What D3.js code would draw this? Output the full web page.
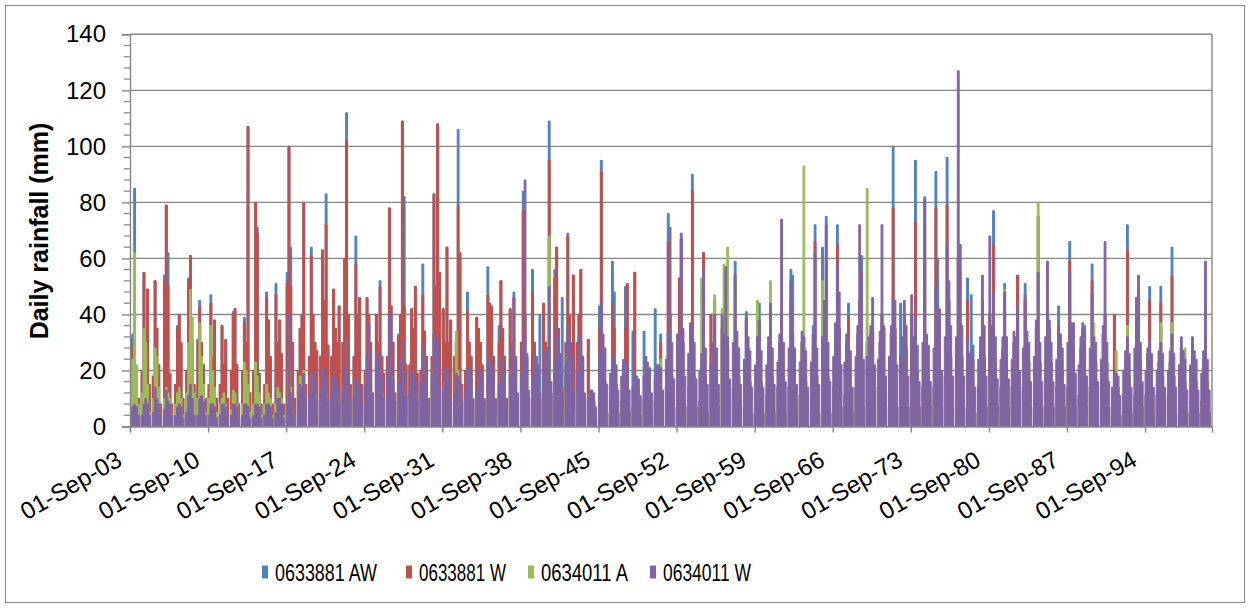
<!DOCTYPE html>
<html>
<head>
<meta charset="utf-8">
<script src="https://cdn.jsdelivr.net/npm/d3@7"></script>
<style>
  body { margin: 0; background: #ffffff; }
  svg { display: block; }
  text { font-family: "Liberation Sans", Arial, sans-serif; fill: #000; }
</style>
</head>
<body>
<svg id="chart" width="1250" height="608"></svg>
<script>
// Daily rainfall, four gauges, hydrological years Sep 1903 - Aug 2000.
// Each row is one year (Sep-Aug); its six values are the highest daily
// rainfall (mm) in each two-month block: Sep-Oct, Nov-Dec, Jan-Feb, Mar-Apr, May-Jun, Jul-Aug.
const seriesNames = ["0633881 AW", "0633881 W", "0634011 A", "0634011 W"];
const seriesColors = ["#4F81BD", "#C0504D", "#9BBB59", "#8064A2"];
const yTickValues = [0, 20, 40, 60, 80, 100, 120, 140];
const xTickYears = [1903, 1910, 1917, 1924, 1931, 1938, 1945, 1952, 1959, 1966, 1973, 1980, 1987, 1994];
const firstYear = 1903;

const rain0633881AW = [
"32 33 85 20 10 0","20 55 25 49 15 0","18 52 35 22 8 0","54 79 62 19 8 0","15 36 40 30 10 0",
"20 53 61 31 15 0","31 45 30 22 10 0","15 47 25 38 10 0","15 36 22 31 10 0","20 41 42 22 8 0",
"20 39 30 107 12 0","20 80 71 19 8 0","15 48 38 25 8 0","51 30 38 26 8 0","55 100 64 30 10 0",
"20 35 40 80 15 0","25 64 40 30 27 0","25 63 45 83 29 0","25 49 35 30 43 0","30 60 112 40 15 0",
"25 68 40 46 15 0","20 46 40 30 12 0","40 30 52 25 19 0","25 78 43 30 12 0","33 40 109 82 22 0",
"22 42 35 50 19 0","20 58 34 25 10 0","25 83 50 108 55 0","42 30 64 30 38 0","25 30 106 62 15 0",
"20 48 30 25 10 0","39 35 30 22 10 0","57 44 43 25 10 0","36 52 35 25 10 0","42 30 48 25 10 0",
"30 84 40 25 10 0","56 30 25 20 40 0","44 30 28 109 12 0","56 64 35 25 46 0","30 69 40 30 54 0",
"30 40 56 25 10 0","31 12 11 9 3 0","43 95 28 16 5 0","9 59 48 15 5 0","9 22 50 51 5 0",
"34 55 16 13 4 0","34 23 19 14 4 0","42 20 18 33 5 0","14 76 40 18 7 0","30 53 67 30 7 0",
"14 35 90 18 7 0","9 22 62 18 5 0","40 26 45 18 7 0","35 29 40 28 7 0","14 59 28 18 7 0",
"11 41 28 16 5 0","11 33 44 16 5 0","11 28 35 18 5 0","14 30 40 18 5 0","14 56 54 18 5 0",
"11 30 28 16 5 0","11 36 72 18 5 0","64 35 75 18 5 0","14 33 72 35 7 0","11 30 44 16 5 0",
"14 33 45 61 7 0","30 28 33 35 7 0","14 30 40 35 7 0","14 33 100 35 7 0","44 28 40 28 7 0",
"40 28 95 20 7 0","14 82 28 18 7 0","14 91 60 30 7 0","18 96 45 25 7 0","28 60 65 25 7 0",
"53 18 47 29 5 0","14 28 45 25 7 0","40 33 77 23 7 0","14 28 51 23 7 0","14 30 28 54 7 0",
"14 51 30 23 7 0","14 35 75 23 7 0","18 40 35 23 7 0","14 43 30 20 7 0","14 66 35 28 7 0",
"11 28 35 36 7 0","14 58 28 23 7 0","14 33 40 23 7 0","9 40 17 14 4 0","11 23 72 18 5 0",
"11 46 50 23 7 0","11 26 50 18 5 0","11 23 50 18 5 0","11 23 64 18 5 0","9 28 23 16 5 0",
"9 28 23 16 5 0","9 23 30 16 5 0"
];

const rain0633881W = [
"31 28 30 20 10 0","20 55 25 49 15 0","18 52 35 22 8 0","52 79 50 19 8 0","15 35 40 30 10 0",
"20 52 61 31 15 0","31 43 30 22 10 0","15 44 25 38 10 0","15 36 22 31 10 0","20 40 42 22 8 0",
"20 37 30 107 12 0","20 80 69 19 8 0","15 46 38 25 8 0","47 30 38 26 8 0","51 100 50 30 10 0",
"20 35 40 80 15 0","25 61 40 30 27 0","25 63 45 72 29 0","25 49 35 30 43 0","30 60 102 40 15 0",
"25 58 40 46 15 0","20 46 40 30 12 0","40 30 50 25 19 0","25 78 43 30 12 0","32 40 109 43 22 0",
"22 42 35 50 19 0","20 47 34 25 10 0","25 83 50 108 55 0","42 30 64 30 38 0","25 30 79 62 15 0",
"20 41 30 25 10 0","39 35 30 22 10 0","47 44 43 25 10 0","30 52 35 25 10 0","42 30 46 25 10 0",
"30 77 40 25 10 0","48 30 25 20 10 0","44 30 28 95 12 0","53 64 35 25 12 0","30 68 40 30 54 0",
"30 40 56 25 10 0","31 12 11 9 3 0","35 91 28 16 5 0","9 44 35 15 5 0","9 22 35 51 5 0",
"7 55 16 13 4 0","9 23 19 14 4 0","9 20 18 30 5 0","14 66 40 18 7 0","30 53 67 30 7 0",
"14 35 84 18 7 0","9 22 62 18 5 0","40 26 45 18 7 0","35 29 40 28 7 0","14 40 28 18 7 0",
"11 38 28 16 5 0","11 28 36 16 5 0","11 28 35 18 5 0","14 30 40 18 5 0","14 45 28 18 5 0",
"11 30 28 16 5 0","11 29 66 18 5 0","40 35 60 18 5 0","14 33 65 35 7 0","11 30 39 16 5 0",
"14 33 45 55 7 0","30 28 33 35 7 0","14 30 40 35 7 0","14 33 78 35 7 0","18 28 40 28 7 0",
"40 28 73 20 7 0","14 60 28 18 7 0","14 78 38 30 7 0","18 79 45 25 7 0","28 60 55 25 7 0",
"45 18 23 16 5 0","14 28 45 25 7 0","40 33 65 23 7 0","14 28 40 23 7 0","14 30 28 54 7 0",
"14 45 30 23 7 0","14 35 75 23 7 0","18 40 35 23 7 0","14 30 30 20 7 0","14 59 35 28 7 0",
"11 28 35 30 7 0","14 52 28 23 7 0","14 33 40 23 7 0","9 40 17 14 4 0","11 23 63 18 5 0",
"11 40 45 23 7 0","11 26 45 18 5 0","11 23 44 18 5 0","11 23 54 18 5 0","9 28 23 16 5 0",
"9 28 23 16 5 0","9 23 30 16 5 0"
];

const rain0634011A = [
"20 24 62 22 8 0","12 35 30 15 5 0","10 28 25 14 4 0","10 14 12 10 4 0","8 12 14 10 4 0",
"12 30 49 39 12 0","10 37 25 15 5 0","10 36 20 14 5 0","8 10 12 8 3 0","6 13 12 8 3 0",
"8 23 20 15 5 0","8 23 18 12 4 0","8 15 12 10 4 0","8 14 12 10 4 0","8 20 14 10 4 0",
"8 18 15 20 5 0","8 18 15 12 4 0","8 18 15 12 4 0","8 16 14 10 4 0","8 15 18 12 4 0",
"8 15 14 10 4 0","10 25 20 14 4 0","15 18 20 12 4 0","10 25 18 12 4 0","10 18 20 15 4 0",
"10 16 15 12 4 0","10 18 15 12 4 0","12 20 18 14 5 0","10 16 15 12 4 0","10 34 20 14 5 0",
"10 18 15 12 4 0","10 16 15 12 4 0","12 18 15 12 4 0","12 18 15 12 4 0","12 20 30 14 4 0",
"12 20 25 14 4 0","12 20 18 14 4 0","12 20 18 68 5 0","15 25 20 14 5 0","15 25 20 14 5 0",
"12 22 20 14 5 0","6 12 10 8 3 0","10 25 20 14 5 0","8 20 18 14 5 0","8 20 18 14 5 0",
"7 16 15 12 4 0","8 20 18 14 4 0","8 18 16 24 5 0","12 22 20 14 5 0","15 22 20 14 5 0",
"12 22 20 14 5 0","8 53 30 14 5 0","12 25 47 18 6 0","42 58 45 64 7 0","12 53 28 18 6 0",
"10 30 25 16 5 0","10 45 30 16 5 0","10 28 52 18 5 0","12 25 30 18 5 0","12 25 25 18 5 0",
"10 30 93 18 5 0","10 25 30 18 5 0","52 30 40 18 5 0","12 25 30 20 5 0","10 22 25 16 5 0",
"12 25 30 20 5 0","85 28 30 25 6 0","12 25 30 20 5 0","12 25 30 20 5 0","15 25 30 20 5 0",
"15 25 30 18 5 0","12 25 25 18 5 0","12 25 25 18 5 0","15 25 30 18 5 0","15 30 30 18 5 0",
"15 18 20 15 5 0","12 25 25 18 5 0","15 25 30 18 5 0","12 25 49 18 5 0","12 25 25 20 5 0",
"12 25 25 18 5 0","12 25 80 18 5 0","12 25 25 18 5 0","12 25 25 18 5 0","12 25 25 18 5 0",
"10 20 25 18 5 0","12 30 37 18 5 0","12 25 25 18 5 0","8 18 27 13 4 0","10 22 36 18 5 0",
"10 25 30 18 5 0","10 22 25 18 5 0","10 22 37 18 5 0","10 22 37 18 5 0","8 22 22 28 5 0",
"8 22 22 16 5 0","8 18 18 15 5 0"
];

const rain0634011W = [
"5 7 8 7 4 0","4 8 10 8 4 0","5 14 10 8 4 0","6 13 9 8 4 0","4 7 8 7 3 0",
"5 11 15 10 4 0","4 10 11 9 4 0","4 8 8 7 3 0","4 8 8 7 3 0","4 8 8 7 3 0",
"4 8 8 7 3 0","4 8 8 7 3 0","4 8 8 7 3 0","5 10 10 8 3 0","8 40 12 10 4 0",
"10 15 14 19 10 0","12 18 20 16 9 0","13 21 20 17 9 0","12 18 17 14 8 0","12 20 31 17 9 0",
"11 17 16 14 8 0","15 26 37 20 11 0","26 22 27 18 10 0","18 40 22 17 9 0","15 24 31 20 11 0",
"13 20 19 16 9 0","16 29 24 18 10 0","18 33 27 31 14 0","13 21 20 17 9 0","12 19 18 16 9 0",
"13 21 20 17 9 0","13 21 20 17 9 0","23 25 22 18 10 0","15 25 23 18 10 0","18 28 46 24 12 0",
"19 30 88 26 13 0","18 26 25 22 12 0","18 27 28 50 16 0","24 37 33 26 14 0","22 36 31 25 13 0",
"20 32 30 24 12 0","10 13 13 12 7 0","26 44 33 28 15 0","19 25 24 22 13 0","18 24 23 22 13 0",
"14 19 18 17 11 0","18 25 23 21 12 0","17 22 22 21 13 0","24 34 71 30 17 0","33 32 69 35 18 0",
"26 37 35 30 17 0","20 26 56 28 15 0","22 30 40 28 15 0","40 33 57 32 17 0","30 54 34 28 15 0",
"24 39 32 27 14 0","22 32 38 27 14 0","22 32 44 28 15 0","23 33 74 30 16 0","28 52 33 28 15 0",
"23 34 32 27 14 0","23 33 62 28 15 0","32 45 72 30 16 0","25 37 58 48 22 0","23 33 31 27 14 0",
"25 36 72 54 24 0","25 32 36 46 22 0","24 34 72 36 18 0","25 36 46 45 22 0","25 32 45 36 18 0",
"47 32 39 29 16 0","30 81 33 29 16 0","28 50 40 42 20 0","32 66 52 36 18 0","32 127 65 36 18 0",
"31 26 27 24 14 0","24 32 54 36 18 0","68 36 48 32 17 0","24 32 48 32 17 0","24 34 32 43 20 0",
"28 47 34 30 16 0","25 38 55 30 16 0","32 59 38 30 16 0","24 36 33 28 15 0","30 55 37 37 19 0",
"22 32 37 34 18 0","28 47 32 30 16 0","24 36 66 30 16 0","14 20 19 18 11 0","20 27 32 26 14 0",
"28 46 54 30 16 0","20 28 30 26 14 0","20 27 30 26 14 0","20 27 33 26 14 0","22 32 27 24 13 0",
"22 32 27 24 13 0","19 27 59 24 13 0"
];

const seriesRows = [rain0633881AW, rain0633881W, rain0634011A, rain0634011W];

// Turn the yearly rows into dated two-month blocks.
function toBlocks(rows) {
  const pts = [];
  rows.forEach((row, k) => {
    row.trim().split(/\s+/).map(Number).forEach((v, s) => {
      pts.push({ date: new Date(firstYear + k, 8 + 2 * s, 1), v });
    });
  });
  pts.push({ date: new Date(firstYear + rows.length, 8, 1), v: 0 });
  return pts;
}
const series = seriesRows.map(toBlocks);

const svg = d3.select("#chart");
const W = 1250, H = 608;
const plot = { left: 130, right: 1212, top: 34.3, bottom: 426.5 };

// chart frame
svg.append("rect").attr("x", 5.5).attr("y", 5.5).attr("width", W - 11).attr("height", H - 11)
  .attr("fill", "#fff").attr("stroke", "#868686").attr("stroke-width", 1);

const x = d3.scaleTime()
  .domain([new Date(firstYear, 8, 1), new Date(firstYear + rain0634011W.length, 8, 1)])
  .range([plot.left, plot.right]);
const y = d3.scaleLinear().domain([0, 140]).range([plot.bottom, plot.top]);

// horizontal gridlines
svg.append("g").selectAll("line").data(yTickValues.filter(v => v > 0)).join("line")
  .attr("x1", plot.left).attr("x2", plot.right)
  .attr("y1", d => y(d)).attr("y2", d => y(d))
  .attr("stroke", "#878787").attr("stroke-width", 1.4);
// right edge of the plot area
svg.append("line").attr("x1", plot.right).attr("x2", plot.right)
  .attr("y1", plot.top).attr("y2", plot.bottom)
  .attr("stroke", "#878787").attr("stroke-width", 1.4);

// rainfall columns, drawn back to front
const area = d3.area()
  .x(d => x(d.date))
  .y0(y(0))
  .y1(d => y(d.v))
  .curve(d3.curveStepAfter);

svg.append("clipPath").attr("id", "plot-clip").append("rect")
  .attr("x", plot.left).attr("y", plot.top - 2)
  .attr("width", plot.right - plot.left).attr("height", plot.bottom - plot.top + 2);

svg.append("g").attr("clip-path", "url(#plot-clip)")
  .selectAll("path").data(series).join("path")
  .attr("d", area)
  .attr("fill", (d, i) => seriesColors[i])
  .attr("stroke", (d, i) => seriesColors[i])
  .attr("stroke-width", 1)
  .attr("stroke-linejoin", "miter");

// y axis
const yAxis = d3.axisLeft(y).tickValues(yTickValues).tickSize(8).tickPadding(16).tickFormat(d3.format("d"));
const gy = svg.append("g").attr("transform", `translate(${plot.left},0)`).call(yAxis);
gy.select(".domain").attr("stroke", "#868686").attr("stroke-width", 1.4);
gy.selectAll(".tick line").attr("stroke", "#868686").attr("stroke-width", 1.4);
gy.selectAll(".tick text").attr("font-size", 24).attr("font-family", "Liberation Sans, Arial, sans-serif").attr("fill", "#000");
// minor ticks every 4 mm
svg.append("g").selectAll("line").data(d3.range(4, 140, 4).filter(v => v % 20 !== 0)).join("line")
  .attr("x1", plot.left - 6).attr("x2", plot.left)
  .attr("y1", d => y(d)).attr("y2", d => y(d))
  .attr("stroke", "#868686").attr("stroke-width", 1.2);

// x axis
const xTicks = xTickYears.map(yr => new Date(yr, 8, 1));
const fmt = d3.timeFormat("%d-%b-%y");
const xAxis = d3.axisBottom(x).tickValues(xTicks).tickSize(6).tickFormat(fmt);
const gx = svg.append("g").attr("transform", `translate(0,${plot.bottom})`).call(xAxis);
gx.select(".domain").attr("stroke", "#868686").attr("stroke-width", 1.4);
gx.selectAll(".tick line").attr("stroke", "#868686").attr("stroke-width", 1.4);
gx.selectAll(".tick text")
  .attr("font-size", 24).attr("font-family", "Liberation Sans, Arial, sans-serif").attr("fill", "#000")
  .attr("text-anchor", "end")
  .attr("dy", null).attr("y", null)
  .attr("transform", "translate(-7,38) rotate(-30)");

// y axis title
svg.append("text")
  .attr("transform", "translate(48,231) rotate(-90)")
  .attr("text-anchor", "middle")
  .attr("font-size", 25).attr("font-weight", "bold")
  .text("Daily rainfall (mm)");

// legend: horizontally condensed labels with narrow colour keys
const legendKeyX = [262, 406, 528, 650];
const legendTextWidth = [102, 87, 87, 88];
const lg = svg.append("g").selectAll("g").data(seriesNames).join("g")
  .attr("transform", (d, i) => `translate(${legendKeyX[i]},0)`);
lg.append("rect").attr("x", 0).attr("y", 565.5).attr("width", 6).attr("height", 13)
  .attr("fill", (d, i) => seriesColors[i]);
lg.append("text")
  .attr("font-size", 24)
  .text(d => d)
  .each(function (d, i) {
    const natural = this.getComputedTextLength();
    const sx = legendTextWidth[i] / natural;
    d3.select(this).attr("transform", `translate(13,580.5) scale(${sx},1)`);
  });
</script>
</body>
</html>
